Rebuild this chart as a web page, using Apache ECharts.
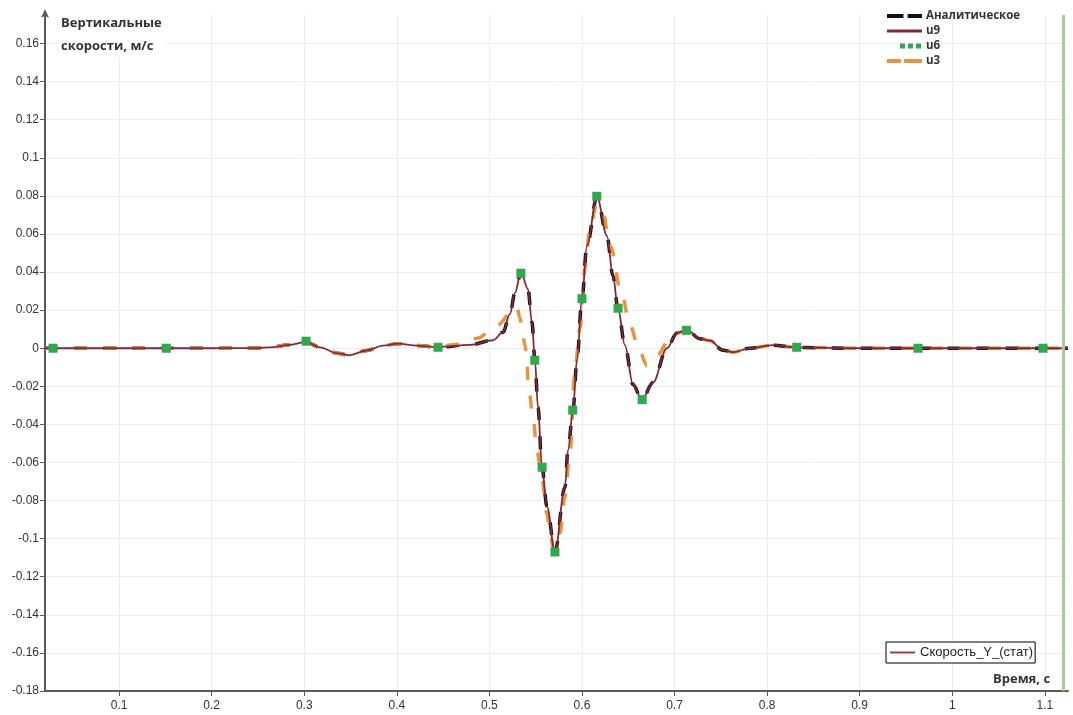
<!DOCTYPE html>
<html><head><meta charset="utf-8">
<script src="https://cdn.jsdelivr.net/npm/echarts@6/dist/echarts.min.js"></script>
<style>html,body{margin:0;padding:0;background:#fff}#c{width:1073px;height:715px}</style>
</head><body><div id="c"></div>
<script>
// ---- data ----
const xTicks = [0.1, 0.2, 0.3, 0.4, 0.5, 0.6, 0.7, 0.8, 0.9, 1.0, 1.1];
const yTicks = [-0.18, -0.16, -0.14, -0.12, -0.1, -0.08, -0.06, -0.04, -0.02, 0, 0.02, 0.04, 0.06, 0.08, 0.1, 0.12, 0.14, 0.16];
const xMin = 0.02, xMax = 1.125, yMin = -0.18, yMax = 0.175;
const endMarkerT = 1.1235;

const analyticT = [0.02, 0.10, 0.20, 0.25, 0.263, 0.2847, 0.302, 0.317, 0.3354, 0.348, 0.3678, 0.385, 0.4013, 0.4218, 0.4434, 0.479, 0.5039, 0.5147, 0.5222, 0.5276, 0.5341, 0.5417, 0.546, 0.5492, 0.5525, 0.5568, 0.5622, 0.5708, 0.5816, 0.5849, 0.5903, 0.5946, 0.600, 0.6054, 0.6162, 0.627, 0.6335, 0.6389, 0.6464, 0.6551, 0.6648, 0.6767, 0.6918, 0.7026, 0.7134, 0.7274, 0.7382, 0.7523, 0.7631, 0.7814, 0.8063, 0.8322, 0.90, 1.00, 1.125];
const analyticV = [0, 0, 0, 0.0001, 0.0005, 0.0018, 0.0033, 0.0005, -0.0026, -0.0037, -0.0012, 0.0014, 0.0024, 0.0014, 0.0006, 0.0018, 0.0042, 0.0084, 0.018, 0.029, 0.0398, 0.031, 0.0136, -0.0063, -0.031, -0.0625, -0.083, -0.107, -0.073, -0.0535, -0.0325, -0.006, 0.026, 0.054, 0.0795, 0.059, 0.038, 0.021, 0.0016, -0.019, -0.027, -0.018, 0.0, 0.008, 0.0096, 0.005, 0.004, -0.001, -0.0021, 0.0, 0.0016, 0.0004, 0, 0, 0];

const u9T = analyticT;
const u9V = [0, 0, 0, 0.0001, 0.0005, 0.0018, 0.0033, 0.0005, -0.0026, -0.0037, -0.0012, 0.0014, 0.0024, 0.0014, 0.0006, 0.0018, 0.0042, 0.0084, 0.018, 0.029, 0.0398, 0.031, 0.0136, -0.0063, -0.031, -0.0625, -0.083, -0.107, -0.073, -0.0535, -0.0325, -0.006, 0.026, 0.054, 0.0795, 0.059, 0.038, 0.021, 0.0016, -0.019, -0.027, -0.018, 0.0, 0.008, 0.0096, 0.005, 0.004, -0.001, -0.0021, 0.0, 0.0016, 0.0004, 0, 0, 0];

const u6T = [0.0287, 0.151, 0.302, 0.4445, 0.534, 0.549, 0.557, 0.5708, 0.590, 0.600, 0.616, 0.639, 0.665, 0.713, 0.832, 0.963, 1.098];
const u6V = [0, 0, 0.0037, 0.0005, 0.0394, -0.0063, -0.0625, -0.107, -0.0325, 0.026, 0.0798, 0.021, -0.027, 0.0094, 0.0005, 0, 0];

const u3T = [0.02, 0.10, 0.20, 0.25, 0.263, 0.2847, 0.302, 0.317, 0.3354, 0.348, 0.3678, 0.385, 0.4013, 0.4218, 0.4434, 0.465, 0.4866, 0.5082, 0.5244, 0.5298, 0.5330, 0.5352, 0.5384, 0.5406, 0.5417, 0.5471, 0.5514, 0.5568, 0.5622, 0.5654, 0.5697, 0.5762, 0.5816, 0.5870, 0.5924, 0.5978, 0.6032, 0.6086, 0.6160, 0.6227, 0.6302, 0.6432, 0.6518, 0.6626, 0.6702, 0.6810, 0.6950, 0.7058, 0.7134, 0.7274, 0.7382, 0.7523, 0.7631, 0.7814, 0.8063, 0.8322, 0.90, 1.00, 1.125];
const u3V = [0, 0, 0, 0.0001, 0.0005, 0.0018, 0.0035, 0.0005, -0.0026, -0.0037, -0.0012, 0.0014, 0.0024, 0.0014, 0.0008, 0.002, 0.0052, 0.012, 0.019, 0.0215, 0.016, 0.0105, 0.0016, -0.005, -0.017, -0.036, -0.054, -0.069, -0.087, -0.097, -0.106, -0.097, -0.078, -0.055, -0.012, 0.0105, 0.042, 0.063, 0.0755, 0.071, 0.054, 0.028, 0.012, -0.002, -0.009, -0.0037, 0.005, 0.0084, 0.0095, 0.005, 0.004, -0.001, -0.0021, 0.0, 0.0016, 0.0004, 0, 0, 0];

const names = ['Аналитическое', 'u9', 'u6', 'u3'];
const statName = 'Скорость_Y_(стат)';

// ---- build ----
const zip = (t, v) => t.map((x, i) => [x, v[i]]);
const fmt = v => String(+(+v).toFixed(2));
const C_BLACK = '#111111', C_RED = '#7f2a36', C_GREEN = '#2fa84e', C_ORANGE = '#e8943e';

const chart = echarts.init(document.getElementById('c'), null, {renderer: 'canvas'});
chart.setOption({
  animation: false,
  backgroundColor: '#ffffff',
  grid: {left: 45, right: 5, top: 15, bottom: 24, containLabel: false},
  xAxis: {
    type: 'value', min: xMin, max: xMax,
    axisLine: {show: true, onZero: false, lineStyle: {color: '#5a5a5a', width: 2}},
    axisTick: {show: true, customValues: xTicks, length: 5, lineStyle: {color: '#5a5a5a'}},
    axisLabel: {customValues: xTicks, formatter: fmt, color: '#333', fontSize: 12, fontFamily: 'Liberation Sans, Arial', margin: 9},
    splitLine: {show: true, lineStyle: {color: '#ededed', width: 1}}
  },
  yAxis: {
    type: 'value', min: yMin, max: yMax,
    axisLine: {show: true, onZero: false, symbol: ['none', 'arrow'], symbolSize: [6, 9], symbolOffset: [0, 6], lineStyle: {color: '#5a5a5a', width: 2}},
    axisTick: {show: true, customValues: yTicks, length: 5, lineStyle: {color: '#5a5a5a'}},
    axisLabel: {customValues: yTicks, formatter: fmt, color: '#333', fontSize: 12, fontFamily: 'Liberation Sans, Arial', margin: 6},
    splitLine: {show: true, lineStyle: {color: '#ededed', width: 1}}
  },
  legend: [{
    orient: 'vertical', left: 887, top: 10, itemGap: 3, itemWidth: 35, itemHeight: 5,
    padding: 0, selectedMode: false,
    textStyle: {fontFamily: 'Open Sans', fontWeight: 'bold', fontSize: 11.5, color: '#333', padding: [0, 0, 0, -1]},
    data: [
      {name: names[0], icon: 'path://M0,0h16v4h-16z M20,0h14v4h-14z', itemStyle: {color: C_BLACK}},
      {name: names[1], icon: 'path://M0,0h35v3h-35z', itemStyle: {color: C_RED}},
      {name: names[2], icon: 'path://M0,0h0.01v0.01h-0.01z M12,0h5v5h-5z M20,0h5v5h-5z M28,0h5v5h-5z', itemStyle: {color: C_GREEN}},
      {name: names[3], icon: 'path://M0,0h14v4h-14z M17,0h18v4h-18z', itemStyle: {color: C_ORANGE}}
    ]
  }, {
    orient: 'horizontal', left: 886, top: 642, itemWidth: 25, itemHeight: 2, itemGap: 3,
    padding: [4, 2, 4, 4], borderColor: '#000', borderWidth: 1, backgroundColor: '#fff', selectedMode: false,
    textStyle: {fontFamily: 'Liberation Sans, Arial', fontSize: 13, color: '#222'},
    data: [{name: statName, icon: 'path://M0,0h25v2h-25z', itemStyle: {color: '#a23a44'}}]
  }],
  graphic: [
    {type: 'text', left: 58, top: 12, z: 10, style: {text: 'Вертикальные\nскорости, м/с', font: 'bold 13px "Open Sans"', fill: '#333', lineHeight: 23, backgroundColor: '#fff', padding: [0, 3, 0, 3]}},
    {type: 'text', left: 990, top: 673, z: 10, style: {text: 'Время, с', font: 'bold 13px "Open Sans"', fill: '#333', backgroundColor: '#fff', padding: [0, 3, 0, 3]}}
  ],
  series: [
    {name: names[0], type: 'line', data: zip(analyticT, analyticV), showSymbol: false, smooth: 0.35, smoothMonotone: 'x',
     color: C_BLACK, lineStyle: {color: C_BLACK, width: 3.5, type: [13, 16]}, z: 2},
    {name: names[3], type: 'line', data: zip(u3T, u3V), showSymbol: false, smooth: 0.35, smoothMonotone: 'x',
     color: C_ORANGE, lineStyle: {color: C_ORANGE, width: 3.5, type: [13, 16]}, z: 3},
    {name: names[1], type: 'line', data: zip(u9T, u9V), showSymbol: false, smooth: 0.35, smoothMonotone: 'x',
     color: C_RED, lineStyle: {color: C_RED, width: 1.8}, z: 4,
     markLine: {silent: true, symbol: ['none', 'none'], label: {show: false}, animation: false,
       lineStyle: {color: '#a8cc9a', width: 3, type: 'solid'}, data: [{xAxis: endMarkerT}]}},
    {name: names[2], type: 'line', data: zip(u6T, u6V), showSymbol: true, symbol: 'rect', symbolSize: 9,
     color: C_GREEN, itemStyle: {color: C_GREEN}, lineStyle: {width: 0, opacity: 0}, z: 5},
    {name: statName, type: 'line', data: [], color: '#a23a44'}
  ]
});
</script>
</body></html>
